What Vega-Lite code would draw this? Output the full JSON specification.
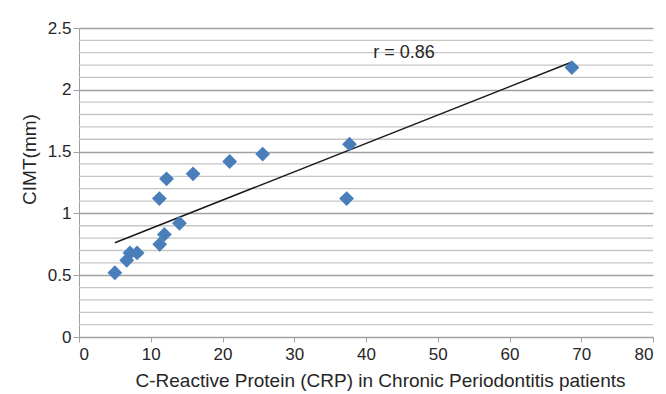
{
  "$schema": "https://vega.github.io/schema/vega-lite/v6.json",
  "width": 574,
  "height": 309,
  "autosize": "none",
  "padding": {"left": 79, "top": 28, "right": 13, "bottom": 57},
  "background": "white",
  "config": {
    "view": {"stroke": null},
    "font": "Liberation Sans",
    "axis": {"labelFont": "Liberation Sans", "titleFont": "Liberation Sans", "labelColor": "#262626", "titleColor": "#262626", "titleFontWeight": "normal", "labelFontSize": 17, "titleFontSize": 19}
  },
  "datasets": {
    "grid": [
      {"v": 0.1}, {"v": 0.2}, {"v": 0.3}, {"v": 0.4},
      {"v": 0.6}, {"v": 0.7}, {"v": 0.8}, {"v": 0.9},
      {"v": 1.1}, {"v": 1.2}, {"v": 1.3}, {"v": 1.4},
      {"v": 1.6}, {"v": 1.7}, {"v": 1.8}, {"v": 1.9},
      {"v": 2.1}, {"v": 2.2}, {"v": 2.3}, {"v": 2.4}
    ],
    "points": [
      {"crp": 5.0, "cimt": 0.52},
      {"crp": 6.65, "cimt": 0.62},
      {"crp": 7.1, "cimt": 0.68},
      {"crp": 8.1, "cimt": 0.68},
      {"crp": 11.25, "cimt": 0.75},
      {"crp": 11.9, "cimt": 0.83},
      {"crp": 14.0, "cimt": 0.92},
      {"crp": 11.2, "cimt": 1.12},
      {"crp": 12.2, "cimt": 1.28},
      {"crp": 15.9, "cimt": 1.32},
      {"crp": 21.0, "cimt": 1.42},
      {"crp": 25.6, "cimt": 1.48},
      {"crp": 37.7, "cimt": 1.56},
      {"crp": 37.3, "cimt": 1.12},
      {"crp": 68.7, "cimt": 2.18}
    ],
    "trend": [
      {"crp": 5.0, "cimt": 0.763},
      {"crp": 68.7, "cimt": 2.225}
    ],
    "label": [
      {"crp": 45.3, "cimt": 2.3, "text": "r = 0.86"}
    ]
  },
  "layer": [
    {
      "data": {"name": "grid"},
      "mark": {"type": "rule", "color": "#c6c6c6", "strokeWidth": 1.3},
      "encoding": {
        "y": {"field": "v", "type": "quantitative", "scale": {"domain": [0, 2.5], "nice": false},
              "axis": {"values": [0, 0.5, 1, 1.5, 2, 2.5], "format": "~g", "grid": true, "gridColor": "#a0a0a0", "gridWidth": 1.3,
                       "domainColor": "#a0a0a0", "tickColor": "#a0a0a0", "tickSize": 6, "labelPadding": 2,
                       "title": "CIMT(mm)", "titleX": -44, "titleY": 131, "titleBaseline": "alphabetic", "titleAngle": 270}}
      }
    },
    {
      "data": {"name": "trend"},
      "mark": {"type": "line", "color": "#1a1a1a", "strokeWidth": 1.5},
      "encoding": {
        "x": {"field": "crp", "type": "quantitative", "scale": {"domain": [0, 80], "nice": false},
              "axis": {"values": [0,10,20,30,40,50,60,70,80], "grid": false, "domainColor": "#a0a0a0", "tickColor": "#a0a0a0", "tickSize": 5, "labelPadding": 4,
                       "title": "C-Reactive Protein (CRP) in Chronic Periodontitis patients", "titleX": 301, "titleY": 49, "titleBaseline": "alphabetic"}},
        "y": {"field": "cimt", "type": "quantitative"}
      }
    },
    {
      "data": {"name": "points"},
      "mark": {"type": "point", "shape": "diamond", "filled": true, "color": "#4a7ebb", "size": 220, "opacity": 1},
      "encoding": {
        "x": {"field": "crp", "type": "quantitative"},
        "y": {"field": "cimt", "type": "quantitative"}
      }
    },
    {
      "data": {"name": "label"},
      "mark": {"type": "text", "fontSize": 18, "color": "#262626", "font": "Liberation Sans"},
      "encoding": {
        "x": {"field": "crp", "type": "quantitative"},
        "y": {"field": "cimt", "type": "quantitative"},
        "text": {"field": "text"}
      }
    }
  ]
}
